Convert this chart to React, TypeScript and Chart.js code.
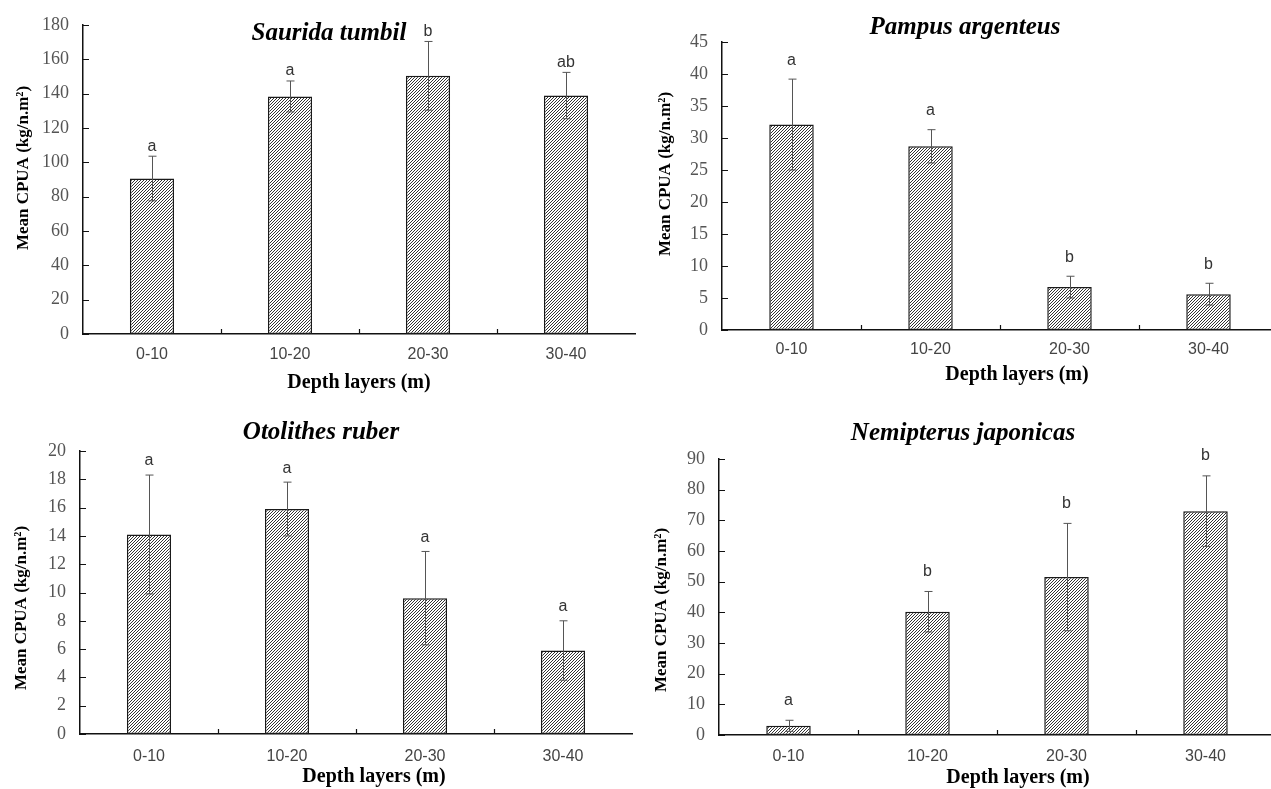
import React, { useEffect, useRef } from 'react';
import { Chart, registerables } from 'chart.js';

Chart.register(...registerables);

// ---------- data ----------
const depthLayers = ['0-10', '10-20', '20-30', '30-40'];

const sauridaMean = [90.5, 138.3, 150.3, 138.8];
const sauridaErr = [13, 9, 20, 13.5];
const sauridaGroups = ['a', 'a', 'b', 'ab'];

const pampusMean = [32.1, 28.7, 6.7, 5.6];
const pampusErr = [7.1, 2.6, 1.7, 1.7];
const pampusGroups = ['a', 'a', 'b', 'b'];

const otolithesMean = [14.1, 15.9, 9.6, 5.9];
const otolithesErr = [4.2, 1.9, 3.3, 2.1];
const otolithesGroups = ['a', 'a', 'a', 'a'];

const nemipterusMean = [3.0, 40.2, 51.5, 73.0];
const nemipterusErr = [1.8, 6.6, 17.5, 11.5];
const nemipterusGroups = ['a', 'b', 'b', 'b'];

const yAxisTitle = 'Mean CPUA (kg/n.m\u00B2)';
const xAxisTitle = 'Depth layers (m)';

// ---------- layout ----------
type Spec = {
  title: string;
  mean: number[];
  err: number[];
  groups: string[];
  max: number;
  step: number;
  left: number;
  top: number;
  width: number;
  height: number;
  padTop: number;
  padRight: number;
  yAxisW: number;
  xAxisH: number;
  xTickPad: number;
  titlePos: [number, number];
  yTitlePos: [number, number];
  xTitlePos: [number, number];
  letterGap: number;
};

const panels: Spec[] = [
  {
    title: 'Saurida tumbil', mean: sauridaMean, err: sauridaErr, groups: sauridaGroups,
    max: 180, step: 20,
    left: 0, top: 0, width: 640, height: 400,
    padTop: 24, padRight: 5, yAxisW: 83, xAxisH: 66, xTickPad: 11,
    titlePos: [329, 34], yTitlePos: [24, 168], xTitlePos: [359, 383], letterGap: 10,
  },
  {
    title: 'Pampus argenteus', mean: pampusMean, err: pampusErr, groups: pampusGroups,
    max: 45, step: 5,
    left: 640, top: 0, width: 645, height: 400,
    padTop: 42, padRight: 7, yAxisW: 82, xAxisH: 70, xTickPad: 10,
    titlePos: [325, 28], yTitlePos: [26, 174], xTitlePos: [377, 375], letterGap: 19,
  },
  {
    title: 'Otolithes ruber', mean: otolithesMean, err: otolithesErr, groups: otolithesGroups,
    max: 20, step: 2,
    left: 0, top: 400, width: 640, height: 389,
    padTop: 51, padRight: 8, yAxisW: 80, xAxisH: 55, xTickPad: 13,
    titlePos: [321, 33], yTitlePos: [22, 208], xTitlePos: [374, 377], letterGap: 14,
  },
  {
    title: 'Nemipterus japonicas', mean: nemipterusMean, err: nemipterusErr, groups: nemipterusGroups,
    max: 90, step: 10,
    left: 640, top: 400, width: 645, height: 389,
    padTop: 59, padRight: 10, yAxisW: 79, xAxisH: 54, xTickPad: 12,
    titlePos: [323, 34], yTitlePos: [22, 210], xTitlePos: [378, 378], letterGap: 20,
  },
];

const SERIF = '"Liberation Serif", "Times New Roman", Times, serif';
const SANS = '"Liberation Sans", Arial, Helvetica, sans-serif';

function makeHatch(): CanvasPattern | string {
  const c = document.createElement('canvas');
  c.width = 3;
  c.height = 3;
  const g = c.getContext('2d');
  if (!g) return '#999';
  g.fillStyle = '#ffffff';
  g.fillRect(0, 0, 3, 3);
  g.fillStyle = '#333333';
  for (let x = 0; x < 3; x++) {
    const y = (2 - x + 3) % 3;
    g.fillRect(x, y, 1, 1);
  }
  return g.createPattern(c, 'repeat') || '#999';
}

function Panel({ spec }: { spec: Spec }) {
  const ref = useRef<HTMLCanvasElement>(null);

  useEffect(() => {
    const canvas = ref.current;
    if (!canvas) return;
    const hatch = makeHatch();

    const decor = {
      id: 'decor',
      afterDatasetsDraw(chart: any) {
        const ctx = chart.ctx as CanvasRenderingContext2D;
        const ys = chart.scales.y;
        const meta = chart.getDatasetMeta(0);
        ctx.save();
        meta.data.forEach((bar: any, i: number) => {
          const x = Math.round(bar.x) + 0.5;
          const top = ys.getPixelForValue(spec.mean[i] + spec.err[i]);
          const bot = ys.getPixelForValue(Math.max(0, spec.mean[i] - spec.err[i]));
          ctx.strokeStyle = '#555555';
          ctx.lineWidth = 1;
          ctx.beginPath();
          ctx.moveTo(x, top);
          ctx.lineTo(x, bot);
          ctx.moveTo(x - 4, top);
          ctx.lineTo(x + 4, top);
          ctx.moveTo(x - 4, bot);
          ctx.lineTo(x + 4, bot);
          ctx.stroke();
          ctx.fillStyle = '#333333';
          ctx.font = `16px ${SANS}`;
          ctx.textAlign = 'center';
          ctx.textBaseline = 'middle';
          ctx.fillText(spec.groups[i], bar.x, top - spec.letterGap);
        });
        ctx.restore();
      },
      afterDraw(chart: any) {
        const ctx = chart.ctx as CanvasRenderingContext2D;
        const area = chart.chartArea;
        const ys = chart.scales.y;
        const xs = chart.scales.x;
        ctx.save();
        // inward ticks on y axis
        ctx.strokeStyle = '#111111';
        ctx.lineWidth = 1.2;
        ctx.beginPath();
        ys.ticks.forEach((t: any) => {
          const py = Math.round(ys.getPixelForValue(t.value)) + 0.5;
          ctx.moveTo(area.left, py);
          ctx.lineTo(area.left + 6, py);
        });
        // inward ticks between categories
        for (let i = 1; i < depthLayers.length; i++) {
          const px = Math.round((xs.getPixelForValue(i - 1) + xs.getPixelForValue(i)) / 2) + 0.5;
          ctx.moveTo(px, area.bottom);
          ctx.lineTo(px, area.bottom - 5);
        }
        ctx.stroke();

        // chart title
        ctx.fillStyle = '#000000';
        ctx.textAlign = 'center';
        ctx.textBaseline = 'middle';
        ctx.font = `italic bold 25px ${SERIF}`;
        ctx.fillText(spec.title, spec.titlePos[0], spec.titlePos[1]);

        // x axis title
        ctx.font = `bold 20px ${SERIF}`;
        ctx.fillText(xAxisTitle, spec.xTitlePos[0], spec.xTitlePos[1]);

        // y axis title
        ctx.translate(spec.yTitlePos[0], spec.yTitlePos[1]);
        ctx.rotate(-Math.PI / 2);
        ctx.font = `bold 17px ${SERIF}`;
        ctx.fillText(yAxisTitle, 0, 0);
        ctx.restore();
      },
    };

    const chart = new Chart(canvas, {
      type: 'bar',
      data: {
        labels: depthLayers,
        datasets: [
          {
            data: spec.mean,
            backgroundColor: hatch as any,
            borderColor: '#1a1a1a',
            borderWidth: 1.5,
            borderSkipped: false,
            barPercentage: 0.32,
            categoryPercentage: 1,
          },
        ],
      },
      options: {
        responsive: false,
        animation: false,
        devicePixelRatio: 1,
        layout: { padding: { top: spec.padTop, right: spec.padRight, left: 0, bottom: 0 } },
        plugins: {
          legend: { display: false },
          tooltip: { enabled: false },
          title: { display: false },
        },
        scales: {
          x: {
            type: 'category',
            offset: true,
            grid: { display: false, drawTicks: false },
            border: { display: true, color: '#111111', width: 1.5 },
            ticks: {
              color: '#444444',
              font: { family: SANS, size: 16 },
              padding: spec.xTickPad,
              maxRotation: 0,
              autoSkip: false,
            },
            afterFit: (s: any) => {
              s.height = spec.xAxisH;
            },
          },
          y: {
            type: 'linear',
            min: 0,
            max: spec.max,
            grid: { display: false, drawTicks: false },
            border: { display: true, color: '#111111', width: 1.5 },
            ticks: {
              stepSize: spec.step,
              color: '#555555',
              font: { family: SERIF, size: 18 },
              padding: 14,
            },
            afterFit: (s: any) => {
              s.width = spec.yAxisW;
            },
          },
        },
      },
      plugins: [decor],
    });
    return () => chart.destroy();
  }, [spec]);

  return (
    <canvas
      ref={ref}
      width={spec.width}
      height={spec.height}
      style={{
        position: 'absolute',
        left: spec.left,
        top: spec.top,
        width: spec.width,
        height: spec.height,
      }}
    />
  );
}

export default function App() {
  return (
    <div
      style={{
        position: 'absolute',
        left: 0,
        top: 0,
        width: 1271,
        height: 789,
        overflow: 'hidden',
        background: '#ffffff',
      }}
    >
      {panels.map((p) => (
        <Panel key={p.title} spec={p} />
      ))}
    </div>
  );
}
